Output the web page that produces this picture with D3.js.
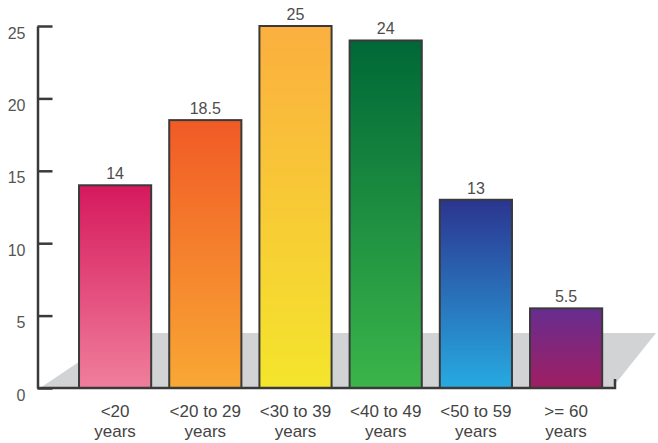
<!DOCTYPE html>
<html>
<head>
<meta charset="utf-8">
<script src="https://cdn.jsdelivr.net/npm/d3@7"></script>
<style>
  html, body { margin: 0; padding: 0; background: #fff; }
  svg { display: block; font-family: "Liberation Sans", Arial, Helvetica, sans-serif; }
</style>
</head>
<body>
<svg id="chart" width="658" height="443"></svg>
<script>
// Age groups, two-line labels
const categories = ["<20 years", "<20 to 29 years", "<30 to 39 years", "<40 to 49 years", "<50 to 59 years", ">= 60 years"];
const labelLines = [["<20", "years"], ["<20 to 29", "years"], ["<30 to 39", "years"], ["<40 to 49", "years"], ["<50 to 59", "years"], [">= 60", "years"]];
const values = [14, 18.5, 25, 24, 13, 5.5];
const valueLabels = ["14", "18.5", "25", "24", "13", "5.5"];
const yTicks = [0, 5, 10, 15, 20, 25];
// Gradient stops per bar: [top, bottom]
const gradients = [
  ["#d6195c", "#f07e9c"],
  ["#f15a26", "#f9a834"],
  ["#fbaf3f", "#f4e52c"],
  ["#006837", "#3bb54a"],
  ["#2b3590", "#27aae1"],
  ["#672d90", "#a01e62"]
];

const svg = d3.select("#chart");

const y = d3.scaleLinear().domain([0, 25]).range([388, 26]);
const x = d3.scaleBand().domain(categories).range([70, 611.2]).paddingInner(0.2).paddingOuter(0.1);

const defs = svg.append("defs");
gradients.forEach((g, i) => {
  const lg = defs.append("linearGradient")
    .attr("id", "grad" + i)
    .attr("x1", 0).attr("y1", 0).attr("x2", 0).attr("y2", 1);
  lg.append("stop").attr("offset", "0%").attr("stop-color", g[0]);
  lg.append("stop").attr("offset", "100%").attr("stop-color", g[1]);
});

// Grey perspective floor behind the bars
const y0 = y(0);
const floorTop = 333;
svg.append("polygon")
  .attr("points", [[40, y0], [122, floorTop], [656, floorTop], [612, y0]].map(p => p.join(",")).join(" "))
  .attr("fill", "#d1d3d4");

// Bars
svg.append("g").selectAll("rect")
  .data(values)
  .join("rect")
  .attr("x", (d, i) => x(categories[i]))
  .attr("y", d => y(d))
  .attr("width", x.bandwidth())
  .attr("height", d => y0 - y(d))
  .attr("fill", (d, i) => `url(#grad${i})`)
  .attr("stroke", "#3a3a3a")
  .attr("stroke-width", 2);

// Value labels
svg.append("g").selectAll("text")
  .data(values)
  .join("text")
  .attr("x", (d, i) => x(categories[i]) + x.bandwidth() / 2)
  .attr("y", d => y(d) - 6)
  .attr("text-anchor", "middle")
  .attr("font-size", 16)
  .attr("fill", "#4d4d4d")
  .text((d, i) => valueLabels[i]);

// Y axis with inward ticks
const yAxis = d3.axisLeft(y)
  .tickValues(yTicks)
  .tickFormat(d3.format("d"))
  .tickSizeInner(-15)
  .tickSizeOuter(0)
  .tickPadding(12);

const gy = svg.append("g")
  .attr("transform", "translate(37.5,0)")
  .call(yAxis);
gy.select(".domain").attr("stroke", "#3a3a3a").attr("stroke-width", 2.5);
gy.selectAll(".tick line").attr("stroke", "#3a3a3a").attr("stroke-width", 2.5);
gy.selectAll(".tick text")
  .attr("font-family", "'Liberation Sans', Arial, sans-serif")
  .attr("font-size", 16)
  .attr("fill", "#555")
  .attr("dy", null)
  .attr("y", 12);

// Baseline with small end tick
svg.append("path")
  .attr("d", `M37.5,${y0} H615 V${y0 - 9}`)
  .attr("fill", "none")
  .attr("stroke", "#3a3a3a")
  .attr("stroke-width", 2.5);

// Category labels
const cat = svg.append("g").selectAll("text")
  .data(labelLines)
  .join("text")
  .attr("x", (d, i) => x(categories[i]) + x.bandwidth() / 2)
  .attr("y", 417)
  .attr("text-anchor", "middle")
  .attr("font-size", 17)
  .attr("fill", "#444");
cat.selectAll("tspan")
  .data(d => d)
  .join("tspan")
  .attr("x", function () { return d3.select(this.parentNode).attr("x"); })
  .attr("dy", (d, j) => j === 0 ? 0 : 20)
  .text(d => d);
</script>
</body>
</html>
